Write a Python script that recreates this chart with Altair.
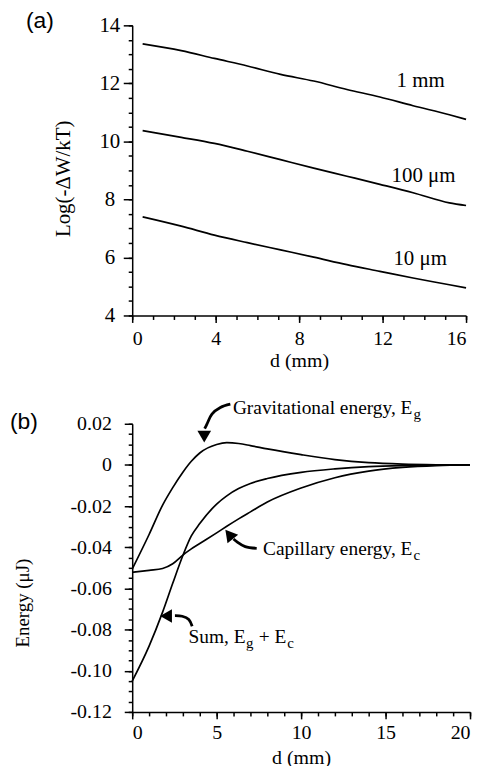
import altair as alt
import pandas as pd

SERIF = "Liberation Serif"
SANS = "Liberation Sans"

# ---------------- Panel (a) data ----------------
d_a = [0.5, 2.35, 3.94, 5.52, 7.11, 8.70, 10.29, 11.87, 13.46, 15.2, 16.0]
log_1mm = [13.36, 13.13, 12.86, 12.60, 12.31, 12.08, 11.79, 11.53, 11.23, 10.92, 10.76]
log_100um = [10.37, 10.14, 9.93, 9.66, 9.37, 9.08, 8.80, 8.52, 8.23, 7.88, 7.79]
log_10um = [7.40, 7.08, 6.77, 6.51, 6.26, 6.01, 5.75, 5.52, 5.29, 5.06, 4.95]
series_a = ["1 mm", "100 μm", "10 μm"]
label_a_d = [12.67, 12.43, 12.52]
label_a_v = [11.88, 8.60, 5.75]

a_x_ticks = [0, 4, 8, 12, 16]
a_y_ticks = [4, 6, 8, 10, 12, 14]
a_x_minor = [0, 1, 2, 3, 4, 5, 6, 7, 8, 9, 10, 11, 12, 13, 14, 15, 16]
a_y_minor = [4 + 0.5 * i for i in range(21)]

# ---------------- Panel (b) data ----------------
d_b = [0, 1, 1.8, 2.4, 3, 3.5, 4, 5, 5.6, 6.3, 7, 8, 10, 12, 14, 16, 18, 20]
e_grav = [-0.0506, -0.0338, -0.0195, -0.0110, -0.0035, 0.0018, 0.0058, 0.0099, 0.0108,
          0.0104, 0.0094, 0.0078, 0.0050, 0.0026, 0.0011, 0.0004, 0.0001, 0.0]
e_cap = [-0.0522, -0.0512, -0.0503, -0.0480, -0.0438, -0.0408, -0.0382, -0.0330, -0.0298,
         -0.0262, -0.0228, -0.0180, -0.0112, -0.0062, -0.0030, -0.0012, -0.0003, 0.0]
e_sum = [-0.1050, -0.0880, -0.0715, -0.0575, -0.0440, -0.0345, -0.0285, -0.0190, -0.0150,
         -0.0115, -0.0090, -0.0066, -0.0036, -0.0019, -0.0008, -0.0003, -0.0001, 0.0]
series_b = ["grav", "cap", "sum"]

b_x_ticks = [0, 5, 10, 15, 20]
b_y_ticks = [-0.12, -0.10, -0.08, -0.06, -0.04, -0.02, 0, 0.02]
b_x_minor = list(range(0, 21))
b_y_minor = [round(-0.12 + 0.005 * i, 3) for i in range(29)]

# annotation texts: main parts (right-aligned at their end) and subscripts
main_txt = ["Gravitational energy, E", "Capillary energy, E", "Sum, E", "+ E"]
main_d = [16.59, 16.59, 6.71, 9.12]
main_v = [0.0248, -0.0437, -0.0864, -0.0864]
sub_txt = ["g", "c", "g", "c"]
sub_d = [16.65, 16.65, 6.74, 9.18]
sub_v = [0.0222, -0.0462, -0.0888, -0.0888]

# arrows
arrow_id = [1, 1, 1, 1, 1, 2, 2, 2, 2, 3, 3, 3, 3]
arrow_d = [5.81, 5.22, 4.72, 4.43, 4.29, 7.37, 6.69, 6.19, 6.00, 3.55, 3.35, 2.96, 2.53]
arrow_v = [0.0295, 0.0279, 0.0247, 0.0199, 0.0176, -0.0405, -0.0397, -0.0373, -0.0360,
           -0.0784, -0.0751, -0.0735, -0.0732]
head_d = [4.265, 5.81, 2.12]
head_v = [0.0147, -0.0345, -0.0734]
head_angle = [180, 321, 270]

# ---------------- Panel (a) ----------------
xa = alt.Scale(domain=[0, 16], nice=False, zero=False)
ya = alt.Scale(domain=[4, 14], nice=False, zero=False)

df_a = pd.DataFrame({
    "d": d_a * 3,
    "v": log_1mm + log_100um + log_10um,
    "s": [s for s in series_a for _ in d_a],
})

lines_a = alt.Chart(df_a).mark_line(color="black", strokeWidth=1.7, interpolate="monotone").encode(
    x=alt.X("d:Q", scale=xa, axis=alt.Axis(values=a_x_ticks, title="d (mm)", orient="bottom",
                                           tickSize=7, labelPadding=6, labelFontSize=20,
                                           labelFont=SERIF, titleFont=SERIF,
                                           titleFontSize=20, titleY=35)),
    y=alt.Y("v:Q", scale=ya, axis=alt.Axis(values=a_y_ticks, title="Log(-ΔW/kT)", orient="left",
                                           tickSize=9, labelPadding=14, labelAlign="center",
                                           labelFont=SERIF, titleFont=SERIF,
                                           labelFontSize=21, titleFontSize=21,
                                           titleX=-59, titleY=154)),
    detail="s:N",
)
minor_a = alt.Chart(df_a).mark_point(opacity=0).encode(
    x=alt.X("d:Q", scale=xa, axis=alt.Axis(values=a_x_minor, labels=False, title=None,
                                           domain=False, tickSize=4, orient="bottom")),
    y=alt.Y("v:Q", scale=ya, axis=alt.Axis(values=a_y_minor, labels=False, title=None,
                                           domain=False, tickSize=4, orient="left")),
)
lab_a = alt.Chart(pd.DataFrame({"d": label_a_d, "v": label_a_v, "t": series_a})).mark_text(
    font=SERIF, fontSize=21, align="left", baseline="alphabetic", color="black"
).encode(
    x=alt.X("d:Q", scale=xa, axis=None),
    y=alt.Y("v:Q", scale=ya, axis=None),
    text="t:N",
)
tag_a = alt.Chart(pd.DataFrame({"t": ["(a)"]})).mark_text(
    font=SANS, fontSize=23, align="left", baseline="alphabetic", color="black"
).encode(x=alt.value(-107), y=alt.value(3), text="t:N")

panel_a = alt.layer(lines_a, minor_a, lab_a, tag_a).resolve_axis(
    x="independent", y="independent"
).properties(width=336, height=292)

# ---------------- Panel (b) ----------------
xb = alt.Scale(domain=[0, 20], nice=False, zero=False)
yb = alt.Scale(domain=[-0.12, 0.02], nice=False, zero=False)

df_b = pd.DataFrame({
    "d": d_b * 3,
    "v": e_grav + e_cap + e_sum,
    "s": [s for s in series_b for _ in d_b],
})

ylab_expr = "datum.value == 0 ? '0' : (datum.value < 0 ? '-' : '') + format(abs(datum.value), '.2f')"

lines_b = alt.Chart(df_b).mark_line(color="black", strokeWidth=1.7, interpolate="monotone").encode(
    x=alt.X("d:Q", scale=xb, axis=alt.Axis(values=b_x_ticks, title="d (mm)", orient="bottom",
                                           tickSize=7, labelPadding=4, labelFontSize=20,
                                           labelFont=SERIF, titleFont=SERIF,
                                           titleFontSize=20, titleY=36)),
    y=alt.Y("v:Q", scale=yb, axis=alt.Axis(values=b_y_ticks, title="Energy (μJ)", orient="left",
                                           tickSize=8, labelPadding=13, labelFontSize=20,
                                           labelFont=SERIF, titleFont=SERIF,
                                           labelExpr=ylab_expr, titleFontSize=19,
                                           titleX=-100, titleY=180)),
    detail="s:N",
)
minor_b = alt.Chart(df_b).mark_point(opacity=0).encode(
    x=alt.X("d:Q", scale=xb, axis=alt.Axis(values=b_x_minor, labels=False, title=None,
                                           domain=False, tickSize=4, orient="bottom")),
    y=alt.Y("v:Q", scale=yb, axis=alt.Axis(values=b_y_minor, labels=False, title=None,
                                           domain=False, tickSize=4, orient="left")),
)
main_b = alt.Chart(pd.DataFrame({"d": main_d, "v": main_v, "t": main_txt})).mark_text(
    font=SERIF, fontSize=19.5, align="right", baseline="alphabetic", color="black"
).encode(
    x=alt.X("d:Q", scale=xb, axis=None),
    y=alt.Y("v:Q", scale=yb, axis=None),
    text="t:N",
)
sub_b = alt.Chart(pd.DataFrame({"d": sub_d, "v": sub_v, "t": sub_txt})).mark_text(
    font=SERIF, fontSize=15, align="left", baseline="alphabetic", color="black"
).encode(
    x=alt.X("d:Q", scale=xb, axis=None),
    y=alt.Y("v:Q", scale=yb, axis=None),
    text="t:N",
)
arrows_b = alt.Chart(pd.DataFrame({
    "d": arrow_d, "v": arrow_v, "a": arrow_id, "o": list(range(len(arrow_id)))
})).mark_line(color="black", strokeWidth=2.8, interpolate="catmull-rom").encode(
    x=alt.X("d:Q", scale=xb, axis=None),
    y=alt.Y("v:Q", scale=yb, axis=None),
    detail="a:N",
    order="o:Q",
)
heads_b = alt.Chart(pd.DataFrame({"d": head_d, "v": head_v, "ang": head_angle})).mark_point(
    shape="triangle", filled=True, color="black", opacity=1, size=190
).encode(
    x=alt.X("d:Q", scale=xb, axis=None),
    y=alt.Y("v:Q", scale=yb, axis=None),
    angle=alt.Angle("ang:Q", scale=None),
)
tag_b = alt.Chart(pd.DataFrame({"t": ["(b)"]})).mark_text(
    font=SANS, fontSize=23, align="left", baseline="alphabetic", color="black"
).encode(x=alt.value(-123), y=alt.value(5), text="t:N")

panel_b = alt.layer(lines_b, minor_b, main_b, sub_b, arrows_b, heads_b, tag_b).resolve_axis(
    x="independent", y="independent"
).properties(width=340, height=290)

chart = alt.vconcat(panel_a, panel_b, spacing=28).properties(
    padding={"left": 2, "top": 0, "right": 0, "bottom": 0}
).configure_view(stroke=None).configure_axis(
    domainColor="black", tickColor="black", labelColor="black", titleColor="black",
    grid=False, domainWidth=1.5, tickWidth=1.5, labelFont=SERIF, titleFont=SERIF,
    titleFontWeight="normal",
)

chart.save("out.html", embed_options={"renderer": "svg", "actions": False})
